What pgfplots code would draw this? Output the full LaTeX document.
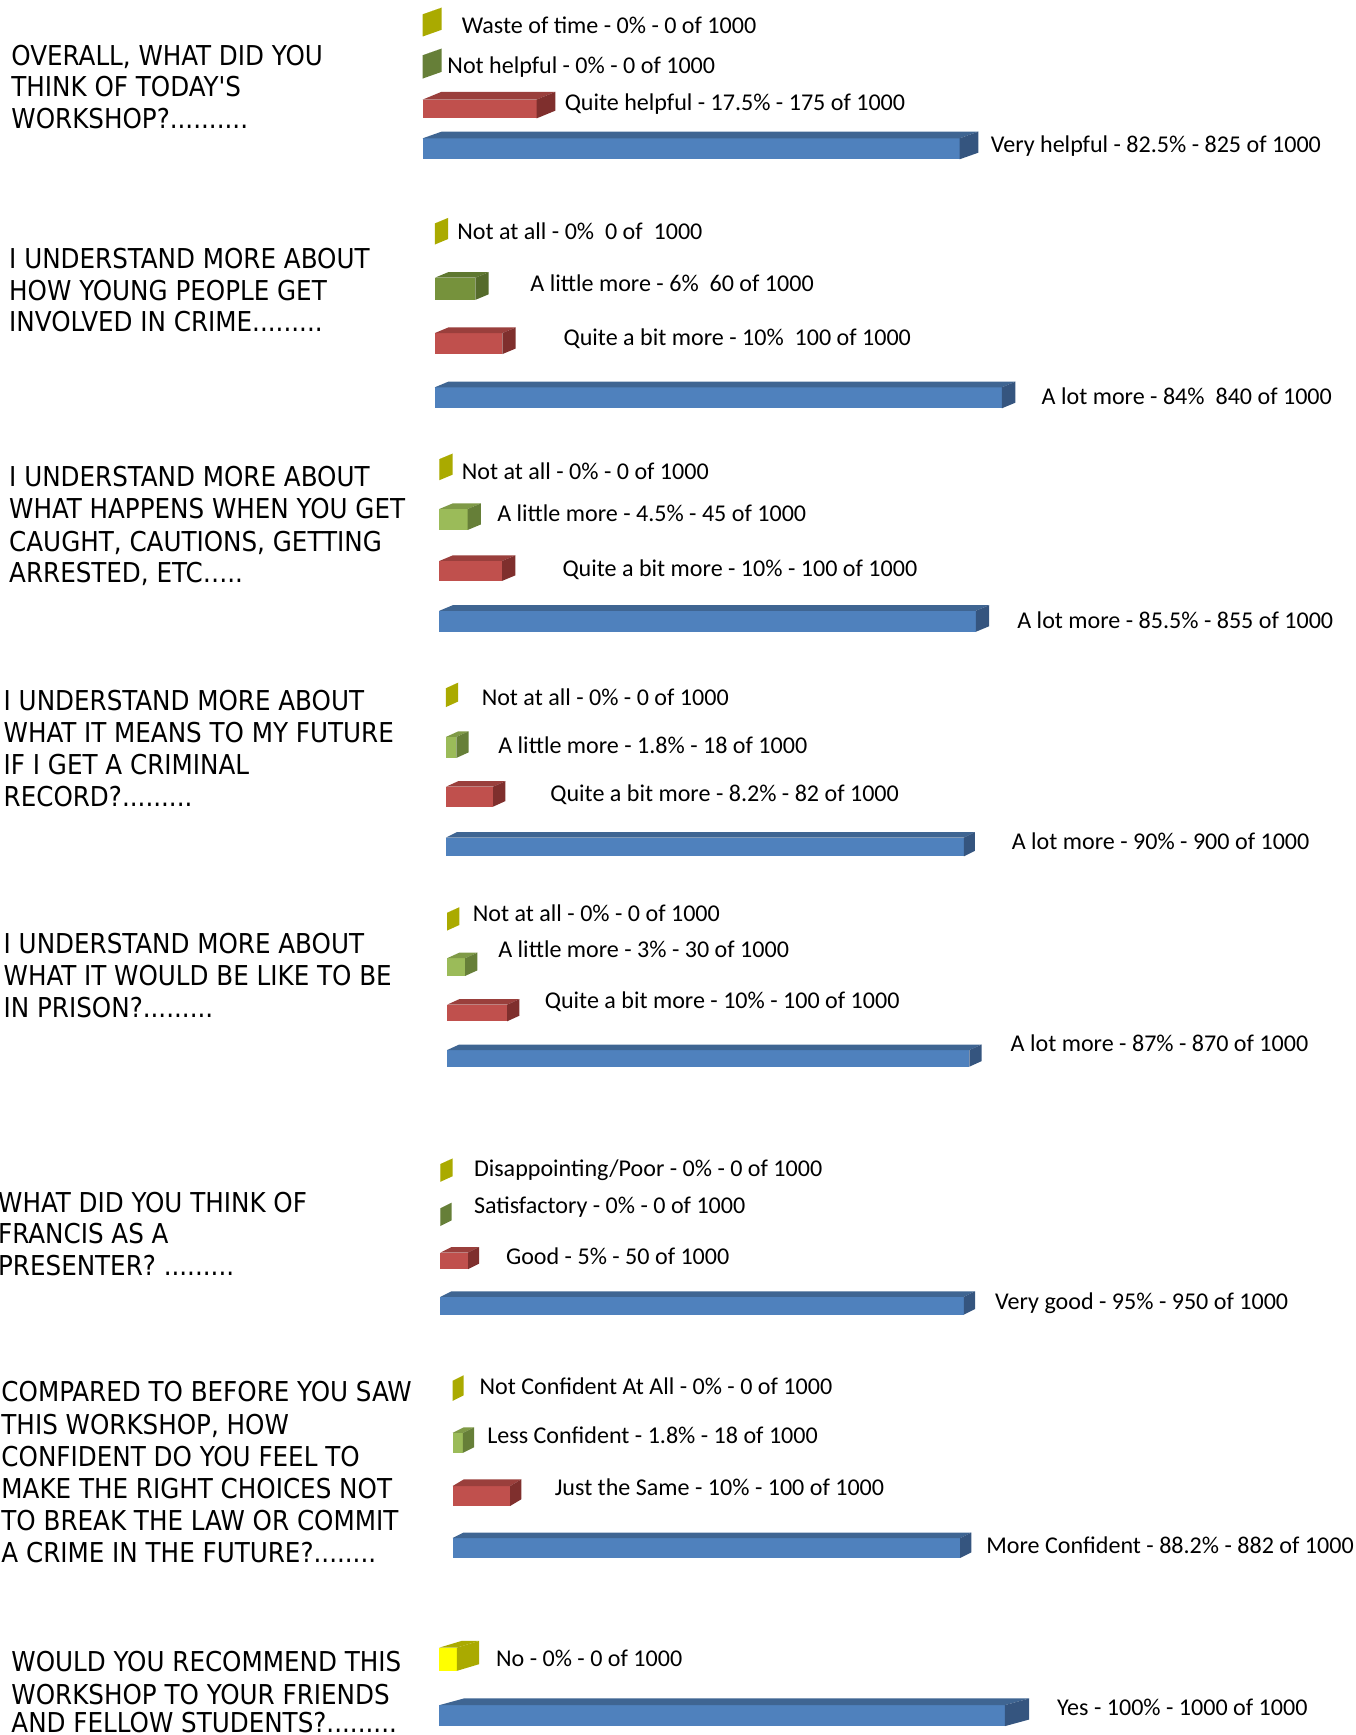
\documentclass[border=0pt]{standalone}
\usepackage{pgfplots}
\pgfplotsset{compat=1.18}
\usepackage{fontspec}
\setmainfont{Carlito}
\newfontfamily\qfont{DejaVu Sans Condensed}
% frame is 1225 x 1568 units, 1 unit is about 0.6pt
\definecolor{blueF}{HTML}{4F81BD}\definecolor{blueT}{HTML}{3F6592}\definecolor{blueS}{HTML}{35557F}
\definecolor{redF}{HTML}{C0504D}\definecolor{redT}{HTML}{9A3F3C}\definecolor{redS}{HTML}{7F2F2D}
\definecolor{yelS}{HTML}{AAAA00}\definecolor{yelF}{HTML}{FFFF00}
\definecolor{dgrS}{HTML}{667F38}
\definecolor{mgrF}{HTML}{76923C}\definecolor{mgrT}{HTML}{5F7830}\definecolor{mgrS}{HTML}{556B2B}
\definecolor{lgrF}{HTML}{9BBB59}\definecolor{lgrT}{HTML}{7F9A47}\definecolor{lgrS}{HTML}{667F38}
\pgfplotsset{
  frame/.style={hide axis,scale only axis,width=733.2pt,height=938.4pt,
    at={(0,0)},anchor=south west,ymin=0,ymax=1568,y dir=reverse,clip=false},
  panel/.style 2 args={frame,xmin=\fpeval{-(#1)/(#2)},xmax=\fpeval{(1225-(#1))/(#2)}},
}
% value, front top, front bottom, dx, dy, front colour, top colour, side colour
\newcommand{\bbar}[8]{%
  \addplot[xbar,draw=none,fill=#6,bar width=\fpeval{(#3-#2)*0.6}pt] coordinates {(#1,\fpeval{(#2+#3)/2})};
  \fill[#7] (axis cs:0,#2) -- ++(\fpeval{#4*0.6}pt,\fpeval{#5*0.6}pt) -- ([xshift=\fpeval{#4*0.6}pt,yshift=\fpeval{#5*0.6}pt]axis cs:#1,#2) -- (axis cs:#1,#2) -- cycle;
  \fill[#8] (axis cs:#1,#2) -- ++(\fpeval{#4*0.6}pt,\fpeval{#5*0.6}pt) -- ([xshift=\fpeval{#4*0.6}pt,yshift=\fpeval{#5*0.6}pt]axis cs:#1,#3) -- (axis cs:#1,#3) -- cycle;
}
\newcommand{\lab}[3]{\node[anchor=base west,inner sep=0pt,yshift=-0.4pt,font=\fontsize{13.02}{16}\selectfont] at (axis cs:#1,#2) {#3};}
\newcommand{\que}[3]{\node[anchor=base west,inner sep=0pt,font=\qfont\fontsize{14.8}{16}\selectfont] at (axis cs:#1,#2) {#3};}
\begin{document}
\begin{tikzpicture}
\path[use as bounding box] (0,0) rectangle (733.2pt,938.4pt);
\begin{axis}[panel={382}{0.588}]
  \bbar{0}{13}{33}{17}{6}{yelS}{yelS}{yelS}
  \bbar{0}{50}{71}{17}{6}{dgrS}{dgrS}{dgrS}
  \bbar{175}{90}{107}{17}{7}{redF}{redT}{redS}
  \bbar{825}{125}{144}{17}{6}{blueF}{blueT}{blueS}
\end{axis}
\begin{axis}[panel={393}{0.61}]
  \bbar{0}{202}{221}{12}{5}{yelS}{yelS}{yelS}
  \bbar{60}{251}{271}{12}{5}{mgrF}{mgrT}{mgrS}
  \bbar{100}{301}{320}{12}{5}{redF}{redT}{redS}
  \bbar{840}{350}{369}{12}{5}{blueF}{blueT}{blueS}
\end{axis}
\begin{axis}[panel={397}{0.567}]
  \bbar{0}{415}{434}{12}{5}{yelS}{yelS}{yelS}
  \bbar{45}{460}{479}{12}{5}{lgrF}{lgrT}{lgrS}
  \bbar{100}{507}{525}{12}{5}{redF}{redT}{redS}
  \bbar{855}{552}{571}{12}{5}{blueF}{blueT}{blueS}
\end{axis}
\begin{axis}[panel={403}{0.52}]
  \bbar{0}{622}{639}{11}{5}{yelS}{yelS}{yelS}
  \bbar{18}{666}{685}{11}{5}{lgrF}{lgrT}{lgrS}
  \bbar{82}{711}{729}{11}{5}{redF}{redT}{redS}
  \bbar{900}{757}{774}{10}{5}{blueF}{blueT}{blueS}
\end{axis}
\begin{axis}[panel={404}{0.5425}]
  \bbar{0}{825}{841}{11}{5}{yelS}{yelS}{yelS}
  \bbar{30}{866}{882}{11}{5}{lgrF}{lgrT}{lgrS}
  \bbar{100}{908}{923}{11}{5}{redF}{redT}{redS}
  \bbar{870}{949}{964}{11}{5}{blueF}{blueT}{blueS}
\end{axis}
\begin{axis}[panel={398}{0.498}]
  \bbar{0}{1052}{1068}{11}{5}{yelS}{yelS}{yelS}
  \bbar{0}{1092}{1108}{10}{5}{dgrS}{dgrS}{dgrS}
  \bbar{50}{1132}{1147}{10}{5}{redF}{redT}{redS}
  \bbar{950}{1172}{1188}{10}{5}{blueF}{blueT}{blueS}
\end{axis}
\begin{axis}[panel={409}{0.52}]
  \bbar{0}{1248}{1266}{10}{5}{yelS}{yelS}{yelS}
  \bbar{18}{1295}{1313}{10}{5}{lgrF}{lgrT}{lgrS}
  \bbar{100}{1343}{1361}{10}{6}{redF}{redT}{redS}
  \bbar{882}{1390}{1408}{10}{5}{blueF}{blueT}{blueS}
\end{axis}
\begin{axis}[panel={397}{0.511}]
  \bbar{31}{1489}{1510}{20}{6}{yelF}{yelS}{yelS}
  \bbar{1000}{1541}{1560}{22}{6}{blueF}{blueT}{blueS}
\end{axis}
\begin{axis}[frame,xmin=0,xmax=1225]
  \lab{417}{30}{Waste of time - 0\% - 0 of 1000}
  \lab{404}{66}{Not helpful - 0\% - 0 of 1000}
  \lab{510}{99}{Quite helpful - 17.5\% - 175 of 1000}
  \lab{895}{137}{Very helpful - 82.5\% - 825 of 1000}
  \lab{413}{216}{Not at all - 0\%\ \ 0 of\ \ 1000}
  \lab{479}{263}{A little more - 6\%\ \ 60 of 1000}
  \lab{509}{312}{Quite a bit more - 10\%\ \ 100 of 1000}
  \lab{941}{365}{A lot more - 84\%\ \ 840 of 1000}
  \lab{417}{433}{Not at all - 0\% - 0 of 1000}
  \lab{449}{471}{A little more - 4.5\% - 45 of 1000}
  \lab{508}{520}{Quite a bit more - 10\% - 100 of 1000}
  \lab{919}{567}{A lot more - 85.5\% - 855 of 1000}
  \lab{435}{637}{Not at all - 0\% - 0 of 1000}
  \lab{450}{680}{A little more - 1.8\% - 18 of 1000}
  \lab{497}{724}{Quite a bit more - 8.2\% - 82 of 1000}
  \lab{914}{767}{A lot more - 90\% - 900 of 1000}
  \lab{427}{832}{Not at all - 0\% - 0 of 1000}
  \lab{450}{865}{A little more - 3\% - 30 of 1000}
  \lab{492}{911}{Quite a bit more - 10\% - 100 of 1000}
  \lab{913}{950}{A lot more - 87\% - 870 of 1000}
  \lab{428}{1063}{Disappointing/Poor - 0\% - 0 of 1000}
  \lab{428}{1096}{Satisfactory - 0\% - 0 of 1000}
  \lab{457}{1142}{Good - 5\% - 50 of 1000}
  \lab{899}{1183}{Very good - 95\% - 950 of 1000}
  \lab{433}{1260}{Not Confident At All - 0\% - 0 of 1000}
  \lab{440}{1304}{Less Confident - 1.8\% - 18 of 1000}
  \lab{501}{1351}{Just the Same - 10\% - 100 of 1000}
  \lab{891}{1403}{More Confident - 88.2\% - 882 of 1000}
  \lab{448}{1505}{No - 0\% - 0 of 1000}
  \lab{955}{1550}{Yes - 100\% - 1000 of 1000}
  \que{10}{59}{OVERALL, WHAT DID YOU}
  \que{10}{87}{THINK OF TODAY'S}
  \que{10}{116}{WORKSHOP?..........}
  \que{8}{243}{I UNDERSTAND MORE ABOUT}
  \que{8}{272}{HOW YOUNG PEOPLE GET}
  \que{8}{300}{INVOLVED IN CRIME.........}
  \que{8}{440}{I UNDERSTAND MORE ABOUT}
  \que{8}{469}{WHAT HAPPENS WHEN YOU GET}
  \que{8}{498}{CAUGHT, CAUTIONS, GETTING}
  \que{8}{526}{ARRESTED, ETC…..}
  \que{3}{642}{I UNDERSTAND MORE ABOUT}
  \que{3}{671}{WHAT IT MEANS TO MY FUTURE}
  \que{3}{700}{IF I GET A CRIMINAL}
  \que{3}{729}{RECORD?.........}
  \que{3}{862}{I UNDERSTAND MORE ABOUT}
  \que{3}{891}{WHAT IT WOULD BE LIKE TO BE}
  \que{3}{920}{IN PRISON?.........}
  \que{-2}{1096}{WHAT DID YOU THINK OF}
  \que{-2}{1124}{FRANCIS AS A}
  \que{-2}{1153}{PRESENTER? .........}
  \que{1}{1267}{COMPARED TO BEFORE YOU SAW}
  \que{1}{1296}{THIS WORKSHOP, HOW}
  \que{1}{1325}{CONFIDENT DO YOU FEEL TO}
  \que{1}{1354}{MAKE THE RIGHT CHOICES NOT}
  \que{1}{1383}{TO BREAK THE LAW OR COMMIT}
  \que{1}{1412}{A CRIME IN THE FUTURE?........}
  \que{10}{1511}{WOULD YOU RECOMMEND THIS}
  \que{10}{1540}{WORKSHOP TO YOUR FRIENDS}
  \que{10}{1566}{AND FELLOW STUDENTS?.........}
\end{axis}
\end{tikzpicture}
\end{document}
